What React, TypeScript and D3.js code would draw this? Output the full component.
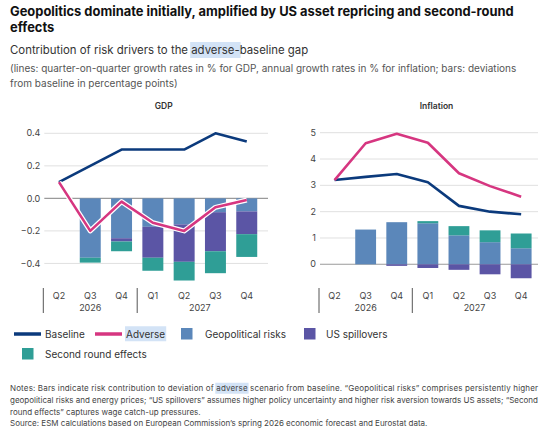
import React, { useLayoutEffect, useRef, useState } from "react";
import * as d3 from "d3";

// quarters shown on both panels
const quarters = ["Q2", "Q3", "Q4", "Q1", "Q2", "Q3", "Q4"];
const years = [
  { label: "2026", from: 0, to: 2 },
  { label: "2027", from: 3, to: 6 },
];

// GDP: q-o-q growth (lines) and deviations in pp (bars)
const gdpBaseline = [0.1, 0.2, 0.3, 0.3, 0.3, 0.4, 0.35];
const gdpAdverse = [0.1, -0.2, -0.02, -0.15, -0.2, -0.055, -0.01];
const gdpGeo = [0, -0.365, -0.245, -0.175, -0.16, -0.085, -0.08];
const gdpUs = [0, 0, -0.02, -0.19, -0.23, -0.24, -0.14];
const gdpSecond = [0, -0.03, -0.06, -0.08, -0.115, -0.135, -0.14];
const gdpTicks = [-0.4, -0.2, 0, 0.2, 0.4];

// Inflation: annual growth (lines) and deviations in pp (bars)
const inflBaseline = [3.2, 3.32, 3.43, 3.12, 2.22, 2.0, 1.9];
const inflAdverse = [3.2, 4.6, 4.96, 4.62, 3.46, 2.97, 2.57];
const inflGeo = [0, 1.32, 1.6, 1.56, 1.1, 0.84, 0.61];
const inflUs = [0, 0, -0.06, -0.14, -0.21, -0.38, -0.53];
const inflSecond = [0, 0, 0, 0.08, 0.35, 0.45, 0.56];
const inflTicks = [0, 1, 2, 3, 4, 5];

const FONT = "Inter, 'Noto Sans', sans-serif";
const C = {
  baseline: "#0b3a7c",
  adverse: "#d63680",
  geo: "#5b87ba",
  us: "#5b55a5",
  second: "#2f9e96",
  grid: "#dcdcdc",
  zero: "#9a9a9a",
  text: "#444",
};
const keys = ["geo", "us", "second"] as const;
const keyColor: Record<string, string> = { geo: C.geo, us: C.us, second: C.second };

type PanelProps = {
  title: string;
  left: number;
  right: number;
  gridRight: number;
  domain: [number, number];
  yRange: [number, number];
  ticks: number[];
  fmt: (v: number) => string;
  baseline: number[];
  adverse: number[];
  geo: number[];
  us: number[];
  second: number[];
  halo: boolean;
};

function Panel(p: PanelProps) {
  const x = d3
    .scaleBand<number>()
    .domain(quarters.map((_, i) => i))
    .range([p.left, p.right])
    .paddingInner(0.33)
    .paddingOuter(0.165);
  const y = d3.scaleLinear().domain(p.domain).range(p.yRange);

  const rows = quarters.map((_, i) => ({ i, geo: p.geo[i], us: p.us[i], second: p.second[i] }));
  const series = d3
    .stack<any>()
    .keys(keys as any)
    .offset(d3.stackOffsetDiverging)(rows);

  const cx = (i: number) => (x(i) as number) + x.bandwidth() / 2;
  const line = d3
    .line<number>()
    .x((_, i) => cx(i))
    .y((d) => y(d));

  const step = x.step();
  const titleX = (p.left + p.gridRight) / 2 + 8;

  return (
    <g>
      <text x={titleX} y={109} textAnchor="middle" fontSize={8.5} fontWeight={600} fill="#333" fontFamily={FONT}>
        {p.title}
      </text>
      {p.ticks.map((t) => (
        <g key={t}>
          <line
            x1={p.left + 1}
            x2={p.gridRight}
            y1={y(t)}
            y2={y(t)}
            stroke={t === 0 ? C.zero : C.grid}
            strokeWidth={t === 0 ? 1.1 : 0.9}
          />
          <text x={p.left - 3} y={y(t)} dy="0.35em" textAnchor="end" fontSize={9} fill={C.text} fontFamily={FONT}>
            {p.fmt(t)}
          </text>
        </g>
      ))}
      {series.map((s) => (
        <g key={s.key} fill={keyColor[s.key]}>
          {s.map((d, i) => {
            const y0 = y(d[0]);
            const y1 = y(d[1]);
            const h = Math.abs(y1 - y0);
            if (h < 0.01) return null;
            return <rect key={i} x={x(i)} width={x.bandwidth()} y={Math.min(y0, y1)} height={h} />;
          })}
        </g>
      ))}
      <path d={line(p.baseline) || ""} fill="none" stroke={C.baseline} strokeWidth={2.6} strokeLinejoin="round" />
      {p.halo && (
        <path d={line(p.adverse) || ""} fill="none" stroke="#fff" strokeWidth={5} strokeLinejoin="round" />
      )}
      <path d={line(p.adverse) || ""} fill="none" stroke={C.adverse} strokeWidth={2.6} strokeLinejoin="round" />
      {quarters.map((q, i) => (
        <text key={i} x={cx(i)} y={295.5} dy="0.35em" textAnchor="middle" fontSize={9} fill={C.text} fontFamily={FONT}>
          {q}
        </text>
      ))}
      {years.map((yr) => (
        <g key={yr.label}>
          <line
            x1={p.left + yr.from * step}
            x2={p.left + yr.from * step}
            y1={288}
            y2={313}
            stroke="#555"
            strokeWidth={1}
          />
          <text
            x={(cx(yr.from) + cx(yr.to)) / 2}
            y={307.5}
            dy="0.35em"
            textAnchor="middle"
            fontSize={9}
            fill={C.text}
            fontFamily={FONT}
          >
            {yr.label}
          </text>
        </g>
      ))}
    </g>
  );
}

const legendRow1 = [
  { label: "Baseline", kind: "line", color: C.baseline, x: 14, tx: 45 },
  { label: "Adverse", kind: "line", color: C.adverse, x: 95, tx: 126 },
  { label: "Geopolitical risks", kind: "box", color: C.geo, x: 181, tx: 205 },
  { label: "US spillovers", kind: "box", color: C.us, x: 304, tx: 326 },
];
const legendRow2 = [{ label: "Second round effects", kind: "box", color: C.second, x: 22, tx: 45 }];

const notes = [
  { text: "Notes: Bars indicate risk contribution to deviation of adverse scenario from baseline. \u201cGeopolitical risks\u201d comprises persistently higher", justify: true },
  { text: "geopolitical risks and energy prices; \u201cUS spillovers\u201d assumes higher policy uncertainty and higher risk aversion towards US assets; \u201cSecond", justify: true },
  { text: "round effects\u201d captures wage catch-up pressures.", justify: false },
  { text: "Source: ESM calculations based on European Commission\u2019s spring 2026 economic forecast and Eurostat data.", justify: false },
];

type Hl = { x: number; y: number; w: number; h: number };

export default function App() {
  const subRef = useRef<SVGTextElement>(null);
  const legRef = useRef<SVGTextElement>(null);
  const noteRef = useRef<SVGTextElement>(null);
  const [hls, setHls] = useState<Hl[]>([]);

  // light-blue highlight behind the word "adverse"
  useLayoutEffect(() => {
    const spans: [SVGTextElement | null, string, number][] = [
      [subRef.current, "adverse-", 16],
      [legRef.current, "Adverse", 15],
      [noteRef.current, "adverse", 11],
    ];
    const out: Hl[] = [];
    spans.forEach(([el, word, h]) => {
      if (!el) return;
      const txt = el.textContent || "";
      const i = txt.indexOf(word);
      if (i < 0) return;
      const a = el.getStartPositionOfChar(i);
      const b = el.getEndPositionOfChar(i + word.length - 1);
      out.push({ x: a.x - 1, y: a.y - h * 0.75, w: b.x - a.x + 2, h });
    });
    setHls(out);
  }, []);

  return (
    <svg
      width={550}
      height={444}
      style={{ position: "absolute", left: 0, top: 0, background: "#fff" }}
      fontFamily={FONT}
    >
      {hls.map((r, i) => (
        <rect key={i} x={r.x} y={r.y} width={r.w} height={r.h} fill="#d3e3f6" />
      ))}
      <text x={10} y={16} fontSize={12.9} fontWeight={700} fill="#111">
        Geopolitics dominate initially, amplified by US asset repricing and second-round
      </text>
      <text x={10} y={32} fontSize={12.9} fontWeight={700} fill="#111">
        effects
      </text>
      <text ref={subRef} x={10} y={54} fontSize={11.4} fill="#333">
        Contribution of risk drivers to the adverse-baseline gap
      </text>
      <text x={10} y={72} fontSize={10} fill="#555">
        (lines: quarter-on-quarter growth rates in % for GDP, annual growth rates in % for inflation; bars: deviations
      </text>
      <text x={10} y={87} fontSize={10} fill="#555">
        from baseline in percentage points)
      </text>

      <Panel
        title="GDP"
        left={43.3}
        right={262.4}
        gridRight={268}
        domain={[-0.5, 0.4]}
        yRange={[279.7, 133.3]}
        ticks={gdpTicks}
        fmt={d3.format(".1f")}
        baseline={gdpBaseline}
        adverse={gdpAdverse}
        geo={gdpGeo}
        us={gdpUs}
        second={gdpSecond}
        halo={true}
      />
      <Panel
        title="Inflation"
        left={319}
        right={536.7}
        gridRight={538}
        domain={[0, 5]}
        yRange={[264.3, 132.7]}
        ticks={inflTicks}
        fmt={d3.format("d")}
        baseline={inflBaseline}
        adverse={inflAdverse}
        geo={inflGeo}
        us={inflUs}
        second={inflSecond}
        halo={false}
      />

      {[...legendRow1.map((l) => ({ ...l, y: 334 })), ...legendRow2.map((l) => ({ ...l, y: 354 }))].map((l) =>
        <g key={l.label}>
          {l.kind === "line" ? (
            <line x1={l.x} x2={l.x + 27} y1={l.y} y2={l.y} stroke={l.color} strokeWidth={3.5} />
          ) : (
            <rect x={l.x} y={l.y - 6} width={11.5} height={11.5} fill={l.color} />
          )}
          <text
            ref={l.label === "Adverse" ? legRef : undefined}
            x={l.tx}
            y={l.y}
            dy="0.35em"
            fontSize={10}
            fill="#333"
          >
            {l.label}
          </text>
        </g>
      )}

      {notes.map((n, i) => (
        <text
          key={i}
          ref={i === 0 ? noteRef : undefined}
          x={10}
          y={391 + i * 11.8}
          fontSize={8}
          fill="#444"
          {...(n.justify ? { textLength: 528, lengthAdjust: "spacing" } : {})}
        >
          {n.text}
        </text>
      ))}
    </svg>
  );
}
